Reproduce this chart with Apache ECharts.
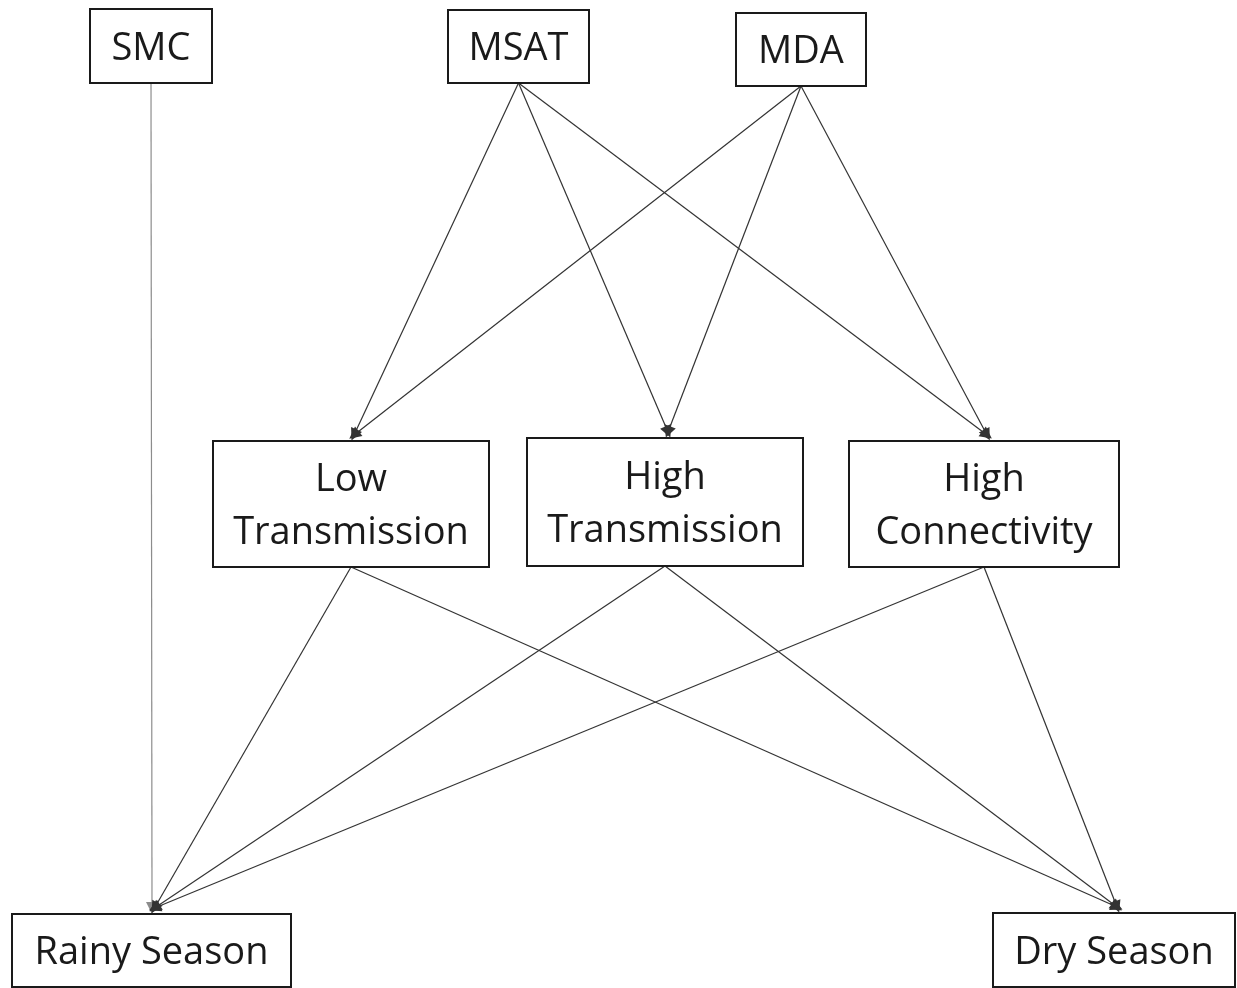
<!DOCTYPE html>
<html>
<head>
<meta charset="utf-8">
<script src="https://cdn.jsdelivr.net/npm/echarts@6/dist/echarts.min.js"></script>
<style>
  html, body { margin: 0; padding: 0; background: #fff; }
  #chart { width: 1237px; height: 988px; }
</style>
</head>
<body>
<div id="chart"></div>
<script>
// nodes of the diagram
const nodeNames = ['SMC', 'MSAT', 'MDA', 'Low\nTransmission', 'High\nTransmission', 'High\nConnectivity', 'Rainy Season', 'Dry Season'];
const nodeLeft = [90, 448, 736, 213, 527, 849, 12, 993];
const nodeTop = [9, 10, 13, 441, 438, 441, 914, 913];
const nodeWidth = [122, 141, 130, 276, 276, 270, 279, 242];
const nodeHeight = [74, 73, 73, 126, 128, 126, 73, 74];

// edges (index into nodes)
const edgeFrom = [0, 1, 1, 1, 2, 2, 2, 3, 3, 4, 4, 5, 5];
const edgeTo = [6, 3, 4, 5, 3, 4, 5, 6, 7, 6, 7, 6, 7];

const chart = echarts.init(document.getElementById('chart'));

const boxData = nodeNames.map((n, i) => [nodeLeft[i], nodeTop[i], nodeWidth[i], nodeHeight[i], n]);

const edgeData = edgeFrom.map((f, i) => {
  const t = edgeTo[i];
  const fromX = nodeLeft[f] + nodeWidth[f] / 2;
  return {
    coords: [
      [fromX, nodeTop[f] + nodeHeight[f]],
      [f === 0 ? fromX + 1 : nodeLeft[t] + nodeWidth[t] / 2 + 3, nodeTop[t] - 6],
    ],
    lineStyle: { color: f === 0 ? '#8c8c8c' : '#333' },
  };
});

chart.setOption({
  animation: false,
  grid: { left: 0, right: 0, top: 0, bottom: 0 },
  xAxis: { type: 'value', min: 0, max: 1237, show: false },
  yAxis: { type: 'value', min: 0, max: 988, inverse: true, show: false },
  series: [
    {
      type: 'lines',
      coordinateSystem: 'cartesian2d',
      z: 1,
      symbol: ['none', 'triangle'],
      symbolSize: 12,
      lineStyle: { width: 1.2, opacity: 1 },
      itemStyle: { color: '#000' },
      data: edgeData,
    },
    {
      type: 'custom',
      z: 2,
      data: boxData,
      renderItem: (params, api) => {
        const p = api.coord([api.value(0), api.value(1)]);
        const s = api.size([api.value(2), api.value(3)]);
        return {
          type: 'rect',
          shape: { x: p[0], y: p[1], width: s[0], height: s[1] },
          style: { fill: '#fff', stroke: '#1a1a1a', lineWidth: 2 },
          textContent: {
            style: {
              text: api.value(4),
              fontFamily: 'Open Sans',
              fontSize: 38,
              lineHeight: 53,
              fill: '#1a1a1a',
              align: 'center',
            },
          },
          textConfig: { position: 'inside', offset: [0, 3] },
        };
      },
    },
  ],
});
</script>
</body>
</html>
